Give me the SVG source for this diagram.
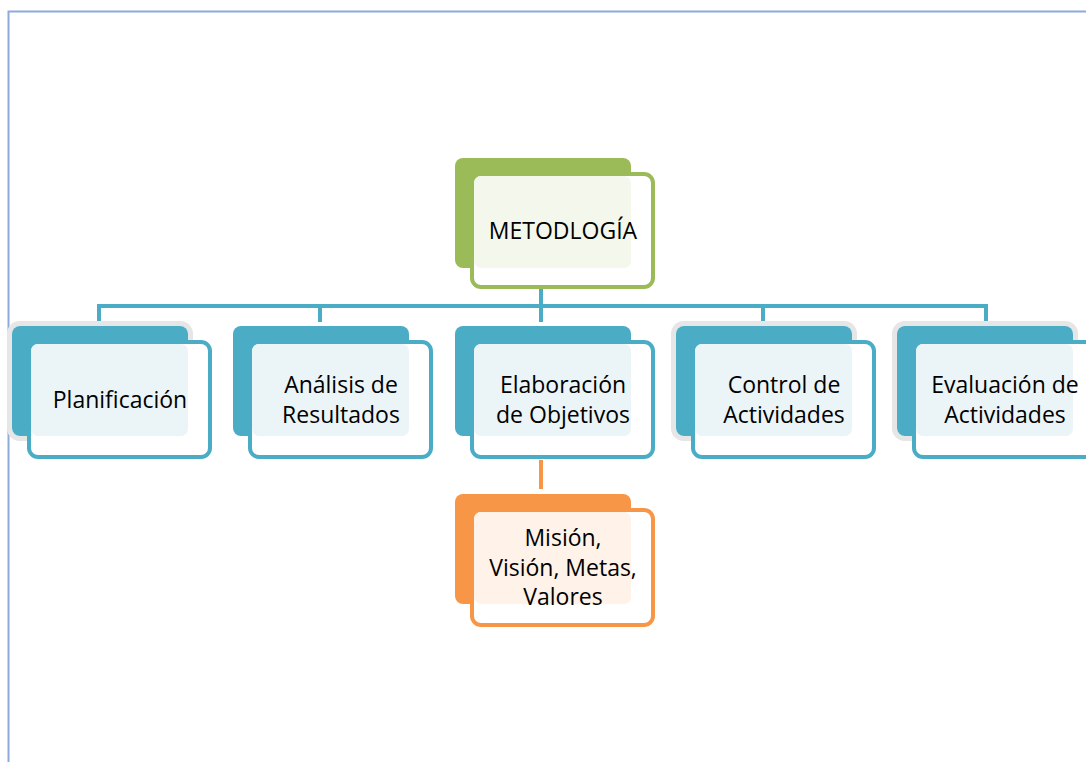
<svg xmlns="http://www.w3.org/2000/svg" width="1086" height="762" viewBox="0 0 1086 762">
<defs>
<style>
.t{font-family:"Open Sans","Liberation Sans",sans-serif;font-size:23px;fill:#000;text-anchor:middle;font-variant-ligatures:none}
.bb{fill:#4bacc6}
.bo{fill:#fff;stroke:#4bacc6;stroke-width:4}
.bl{fill:#ebf4f7}
.halo{fill:none;stroke:#e6e6e6;stroke-width:5}
.cn{stroke:#4bacc6;stroke-width:4;fill:none}
</style>
</defs>
<rect width="1086" height="762" fill="#fff"/>
<g id="border" fill="none" stroke="#8eaadb" stroke-width="2">
<path d="M8.5 762 V11.5 H1086"/>
</g>
<g id="connectors">
<line x1="541" y1="272" x2="541" y2="290" stroke="#4bacc6" stroke-width="4" stroke-opacity="0.15"/>
<line x1="541" y1="288" x2="541" y2="306" class="cn"/>
<path class="cn" d="M99 322 V306 H986 V322 M320 306 V322 M541 306 V322 M763 306 V322"/>
<line x1="541" y1="440" x2="541" y2="460" stroke="#f79646" stroke-width="4" stroke-opacity="0.15"/>
<line x1="541" y1="460" x2="541" y2="489" stroke="#f79646" stroke-width="4"/>
</g>
<g id="metodologia">
<rect x="455" y="158" width="176" height="110" rx="8" fill="#9bbb59"/>
<rect x="472" y="174" width="181" height="113" rx="9" fill="#fff" stroke="#9bbb59" stroke-width="4"/>
<rect x="474" y="176" width="157" height="92" rx="7" fill="#f3f7ec"/>
<text class="t" x="563" y="239">METODLOGÍA</text>
</g>
<g id="planificacion">
<rect class="halo" x="9.5" y="323.5" width="181" height="115" rx="10"/>
<rect class="bb" x="12" y="326" width="176" height="110" rx="8"/>
<rect class="bo" x="29" y="342" width="181" height="115" rx="9"/>
<rect class="bl" x="31" y="344" width="157" height="92" rx="7"/>
<text class="t" x="120" y="408">Planificación</text>
</g>
<g id="analisis">
<rect class="bb" x="233" y="326" width="176" height="110" rx="8"/>
<rect class="bo" x="250" y="342" width="181" height="115" rx="9"/>
<rect class="bl" x="252" y="344" width="157" height="92" rx="7"/>
<text class="t" x="341" y="393">Análisis de</text>
<text class="t" x="341" y="423">Resultados</text>
</g>
<g id="elaboracion">
<rect class="bb" x="455" y="326" width="176" height="110" rx="8"/>
<rect class="bo" x="472" y="342" width="181" height="115" rx="9"/>
<rect class="bl" x="474" y="344" width="157" height="92" rx="7"/>
<text class="t" x="563" y="393">Elaboración</text>
<text class="t" x="563" y="423">de Objetivos</text>
</g>
<g id="control">
<rect class="halo" x="673.5" y="323.5" width="181" height="115" rx="10"/>
<rect class="bb" x="676" y="326" width="176" height="110" rx="8"/>
<rect class="bo" x="693" y="342" width="181" height="115" rx="9"/>
<rect class="bl" x="695" y="344" width="157" height="92" rx="7"/>
<text class="t" x="784" y="393">Control de</text>
<text class="t" x="784" y="423">Actividades</text>
</g>
<g id="evaluacion">
<rect class="halo" x="894.5" y="323.5" width="181" height="115" rx="10"/>
<rect class="bb" x="897" y="326" width="176" height="110" rx="8"/>
<rect class="bo" x="914" y="342" width="181" height="115" rx="9"/>
<rect class="bl" x="916" y="344" width="157" height="92" rx="7"/>
<text class="t" x="1005" y="393">Evaluación de</text>
<text class="t" x="1005" y="423">Actividades</text>
</g>
<g id="mision">
<rect x="455" y="494" width="176" height="110" rx="8" fill="#f79646"/>
<rect x="472" y="510" width="181" height="115" rx="9" fill="#fff" stroke="#f79646" stroke-width="4"/>
<rect x="474" y="512" width="157" height="92" rx="7" fill="#fef2e9"/>
<text class="t" x="563" y="546">Misión,</text>
<text class="t" x="563" y="576">Visión, Metas,</text>
<text class="t" x="563" y="605">Valores</text>
</g>
</svg>
